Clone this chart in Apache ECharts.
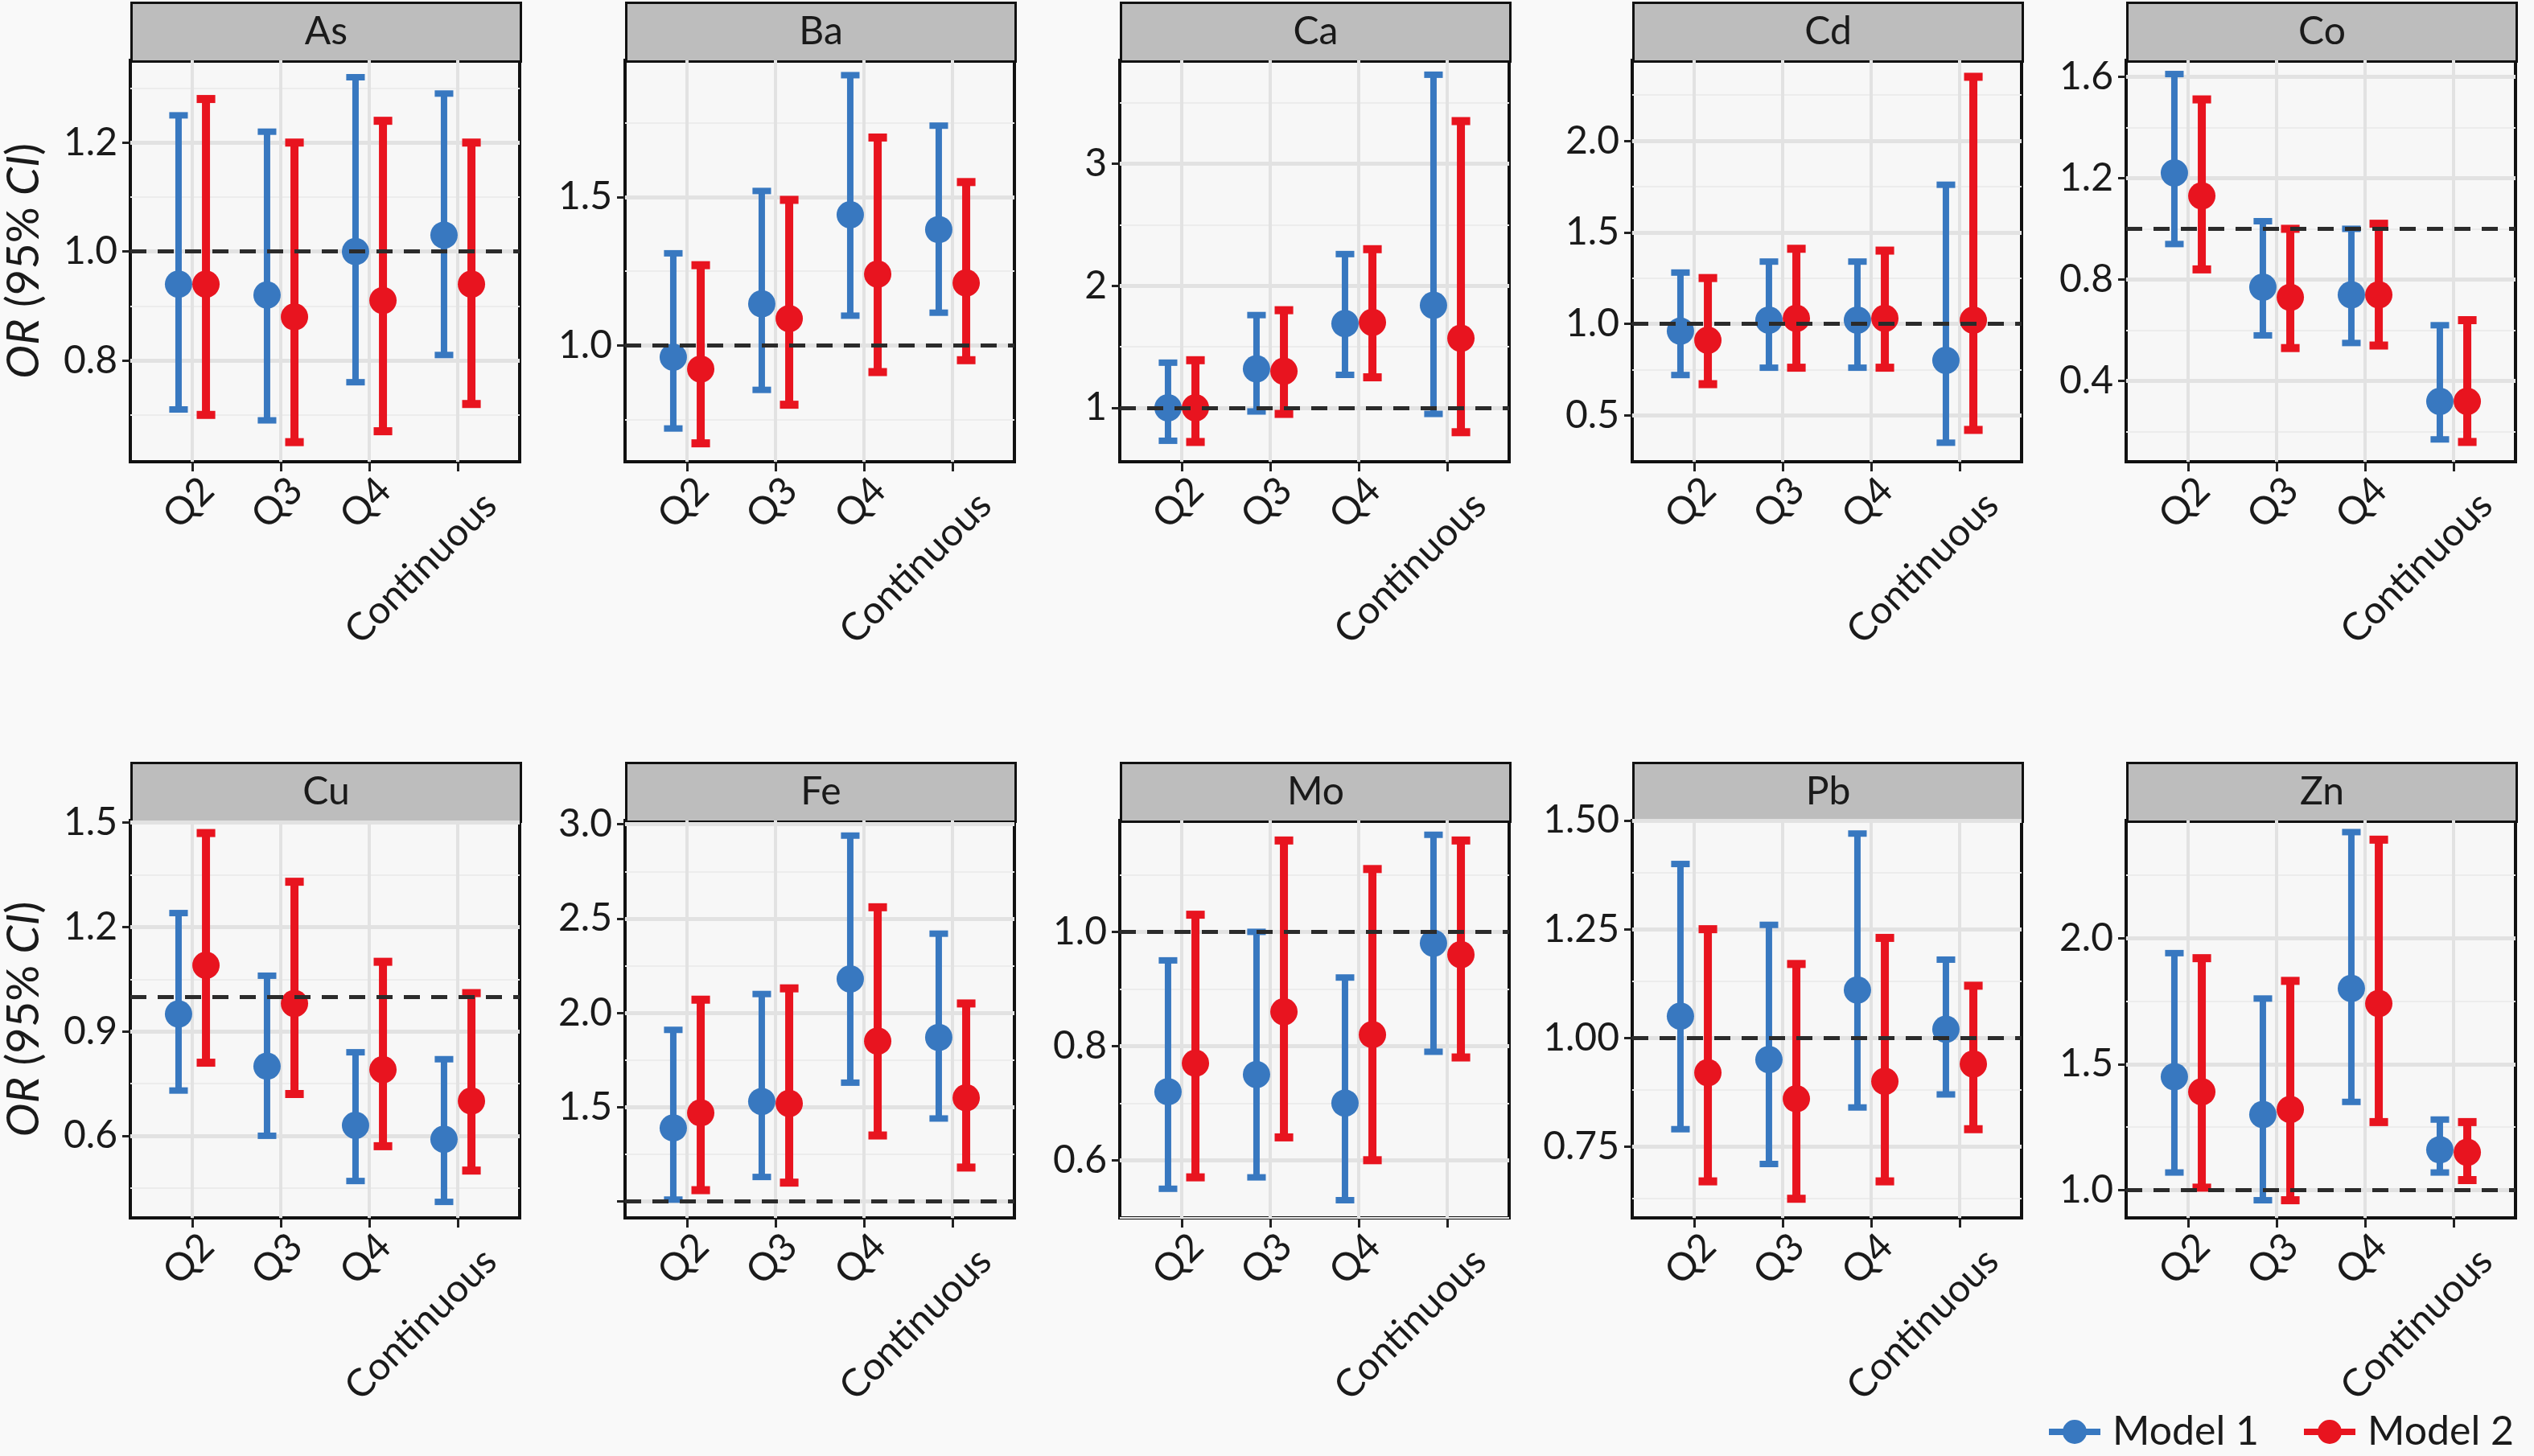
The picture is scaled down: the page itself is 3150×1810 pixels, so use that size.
<!DOCTYPE html>
<html>
<head>
<meta charset="utf-8">
<script src="https://cdn.jsdelivr.net/npm/echarts@6/dist/echarts.min.js"></script>
<style>
  html, body { margin: 0; padding: 0; background: #f9f9f9; }
  #chart { width: 3150px; height: 1810px; }
</style>
</head>
<body>
<div id="chart"></div>
<script>
// categories and panels
const categories = ['Q2', 'Q3', 'Q4', 'Continuous'];
const metals = ['As', 'Ba', 'Ca', 'Cd', 'Co', 'Cu', 'Fe', 'Mo', 'Pb', 'Zn'];

// Model 1: estimate, lower CI, upper CI (one row per metal, columns = categories)
const model1Est = [
  [0.94, 0.92, 1.00, 1.03], [0.96, 1.14, 1.44, 1.39], [1.00, 1.32, 1.69, 1.84],
  [0.96, 1.02, 1.02, 0.80], [1.22, 0.77, 0.74, 0.32], [0.95, 0.80, 0.63, 0.59],
  [1.39, 1.53, 2.18, 1.87], [0.72, 0.75, 0.70, 0.98], [1.05, 0.95, 1.11, 1.02],
  [1.45, 1.30, 1.80, 1.16]
];
const model1Low = [
  [0.71, 0.69, 0.76, 0.81], [0.72, 0.85, 1.10, 1.11], [0.73, 0.97, 1.27, 0.95],
  [0.72, 0.76, 0.76, 0.35], [0.94, 0.58, 0.55, 0.17], [0.73, 0.60, 0.47, 0.41],
  [1.01, 1.13, 1.63, 1.44], [0.55, 0.57, 0.53, 0.79], [0.79, 0.71, 0.84, 0.87],
  [1.07, 0.96, 1.35, 1.07]
];
const model1High = [
  [1.25, 1.22, 1.32, 1.29], [1.31, 1.52, 1.91, 1.74], [1.37, 1.76, 2.26, 3.73],
  [1.28, 1.34, 1.34, 1.76], [1.61, 1.03, 1.00, 0.62], [1.24, 1.06, 0.84, 0.82],
  [1.91, 2.10, 2.94, 2.42], [0.95, 1.00, 0.92, 1.17], [1.40, 1.26, 1.47, 1.18],
  [1.94, 1.76, 2.42, 1.28]
];

// Model 2
const model2Est = [
  [0.94, 0.88, 0.91, 0.94], [0.92, 1.09, 1.24, 1.21], [1.00, 1.30, 1.70, 1.57],
  [0.91, 1.03, 1.03, 1.02], [1.13, 0.73, 0.74, 0.32], [1.09, 0.98, 0.79, 0.70],
  [1.47, 1.52, 1.85, 1.55], [0.77, 0.86, 0.82, 0.96], [0.92, 0.86, 0.90, 0.94],
  [1.39, 1.32, 1.74, 1.15]
];
const model2Low = [
  [0.70, 0.65, 0.67, 0.72], [0.67, 0.80, 0.91, 0.95], [0.72, 0.95, 1.25, 0.80],
  [0.67, 0.76, 0.76, 0.42], [0.84, 0.53, 0.54, 0.16], [0.81, 0.72, 0.57, 0.50],
  [1.06, 1.10, 1.35, 1.18], [0.57, 0.64, 0.60, 0.78], [0.67, 0.63, 0.67, 0.79],
  [1.01, 0.96, 1.27, 1.04]
];
const model2High = [
  [1.28, 1.20, 1.24, 1.20], [1.27, 1.49, 1.70, 1.55], [1.39, 1.80, 2.30, 3.35],
  [1.25, 1.41, 1.40, 2.35], [1.51, 1.00, 1.02, 0.64], [1.47, 1.33, 1.10, 1.01],
  [2.07, 2.13, 2.56, 2.05], [1.03, 1.16, 1.11, 1.16], [1.25, 1.17, 1.23, 1.12],
  [1.92, 1.83, 2.39, 1.27]
];

// y scales per panel
const yRanges = [
  [0.614, 1.351], [0.608, 1.96], [0.558, 3.848], [0.246, 2.44], [0.082, 1.664],
  [0.364, 1.506], [0.913, 3.02], [0.499, 1.195], [0.586, 1.50], [0.89, 2.466]
];
const yTicks = [
  [0.8, 1.0, 1.2], [1.0, 1.5], [1, 2, 3], [0.5, 1.0, 1.5, 2.0], [0.4, 0.8, 1.2, 1.6],
  [0.6, 0.9, 1.2, 1.5], [1.0, 1.5, 2.0, 2.5, 3.0], [0.6, 0.8, 1.0], [0.75, 1.0, 1.25, 1.5],
  [1.0, 1.5, 2.0]
];
const yLabels = [
  [0.8, 1.0, 1.2], [1.0, 1.5], [1, 2, 3], [0.5, 1.0, 1.5, 2.0], [0.4, 0.8, 1.2, 1.6],
  [0.6, 0.9, 1.2, 1.5], [1.5, 2.0, 2.5, 3.0], [0.6, 0.8, 1.0], [0.75, 1.0, 1.25, 1.5],
  [1.0, 1.5, 2.0]
];
const yMinor = [
  [0.7, 0.9, 1.1, 1.3], [0.75, 1.25, 1.75], [1.5, 2.5, 3.5], [0.75, 1.25, 1.75, 2.25],
  [0.2, 0.6, 1.0, 1.4], [0.45, 0.75, 1.05, 1.35], [1.25, 1.75, 2.25, 2.75],
  [0.5, 0.7, 0.9, 1.1], [0.625, 0.875, 1.125, 1.375], [1.25, 1.75, 2.25]
];
const yDigits = [1, 1, 0, 1, 1, 1, 1, 1, 2, 1];

// layout
const FONT = 'Lato';
const TXT = '#1a1a1a';
const colLeft = [162, 777, 1392, 2029, 2643];
const panelW = 484;
const rowTop = [75, 1020];
const panelH = [499, 494];
const stripH = 73;
const BLUE = '#3878c0';
const RED = '#e8141f';

function errRender(offset, lw) {
  return function (params, api) {
    const x = api.value(0) + offset;
    const lo = api.coord([x, api.value(1)]);
    const hi = api.coord([x, api.value(2)]);
    const mid = api.coord([x, api.value(3)]);
    const cap = api.size([0.105, 0])[0];
    const color = api.visual('color');
    const st = { stroke: color, lineWidth: lw };
    return {
      type: 'group',
      children: [
        { type: 'line', shape: { x1: lo[0], y1: lo[1], x2: hi[0], y2: hi[1] }, style: st },
        { type: 'line', shape: { x1: lo[0] - cap, y1: lo[1], x2: lo[0] + cap, y2: lo[1] }, style: st },
        { type: 'line', shape: { x1: hi[0] - cap, y1: hi[1], x2: hi[0] + cap, y2: hi[1] }, style: st },
        { type: 'circle', shape: { cx: mid[0], cy: mid[1], r: 17 }, style: { fill: color } }
      ]
    };
  };
}

// x labels: long labels sit lower, as in the source figure
const xRich = {
  q: { fontSize: 48, fontFamily: FONT, color: TXT, padding: [5, 2, 0, 0] },
  c: { fontSize: 48, fontFamily: FONT, color: TXT, padding: [33, 0, 0, 0] }
};

const grids = [], xAxes = [], yAxes = [], series = [], graphics = [];

metals.forEach((m, i) => {
  const r = Math.floor(i / 5), c = i % 5;
  grids.push({
    left: colLeft[c], top: rowTop[r], width: panelW, height: panelH[r],
    show: true, backgroundColor: '#f7f7f7', borderColor: '#111', borderWidth: 4
  });
  xAxes.push({
    type: 'value', gridIndex: i, min: 0.3, max: 4.7,
    axisLine: { show: false, onZero: false },
    axisTick: { show: true, customValues: [1, 2, 3, 4], length: 12, lineStyle: { color: '#222', width: 3 } },
    axisLabel: {
      customValues: [1, 2, 3, 4], rotate: 45, margin: 6,
      align: 'right', verticalAlign: 'top',
      formatter: v => {
        const name = categories[Math.round(v) - 1];
        return name.length > 2 ? '{c|' + name + '}' : '{q|' + name + '}';
      },
      rich: xRich,
      fontSize: 48, fontFamily: FONT, color: TXT
    },
    splitLine: { show: false }
  });
  const yAx = {
    type: 'value', gridIndex: i, min: yRanges[i][0], max: yRanges[i][1],
    axisLine: { show: false },
    axisTick: { show: true, customValues: yTicks[i], length: 10, lineStyle: { color: '#222', width: 3 } },
    axisLabel: {
      customValues: yLabels[i], margin: 16,
      formatter: v => Number(v).toFixed(yDigits[i]),
      fontSize: 48, fontFamily: FONT, color: TXT
    },
    splitLine: { show: false }
  };
  if (c === 0) {
    yAx.name = '{i|OR}{n| (95% }{i|CI}{n|)}';
    yAx.nameLocation = 'middle';
    yAx.nameRotate = 90;
    yAx.nameGap = 104;
    yAx.nameTextStyle = {
      fontSize: 56, fontFamily: FONT, color: TXT,
      rich: {
        i: { fontStyle: 'italic', fontSize: 56, fontFamily: FONT, color: TXT },
        n: { fontSize: 56, fontFamily: FONT, color: TXT }
      }
    };
  }
  yAxes.push(yAx);

  // grid lines (kept beneath the error bars)
  const minorLines = yMinor[i].map(v => ({ yAxis: v, lineStyle: { color: '#ececec', width: 2, type: 'solid' } }));
  const majorLines = yTicks[i].map(v => ({ yAxis: v, lineStyle: { color: '#e2e2e2', width: 5, type: 'solid' } }));
  const vLines = [1, 2, 3, 4].map(v => ({ xAxis: v, lineStyle: { color: '#e2e2e2', width: 4, type: 'solid' } }));
  series.push({
    type: 'line', xAxisIndex: i, yAxisIndex: i, data: [], z: 1, silent: true,
    markLine: {
      z: 1, silent: true, symbol: 'none', animation: false, label: { show: false },
      data: minorLines.concat(majorLines, vLines)
    }
  });

  const d1 = categories.map((cat, k) => [k + 1, model1Low[i][k], model1High[i][k], model1Est[i][k]]);
  const d2 = categories.map((cat, k) => [k + 1, model2Low[i][k], model2High[i][k], model2Est[i][k]]);
  series.push({
    name: 'Model 1', type: 'custom', xAxisIndex: i, yAxisIndex: i, z: 3,
    itemStyle: { color: BLUE }, renderItem: errRender(-0.155, 8),
    encode: { x: 0, y: [1, 2, 3] }, data: d1, animation: false
  });
  series.push({
    name: 'Model 2', type: 'custom', xAxisIndex: i, yAxisIndex: i, z: 3,
    itemStyle: { color: RED }, renderItem: errRender(0.155, 10),
    encode: { x: 0, y: [1, 2, 3] }, data: d2, animation: false
  });

  // reference line at OR = 1
  series.push({
    type: 'line', xAxisIndex: i, yAxisIndex: i, data: [], z: 6, silent: true,
    markLine: {
      z: 6, silent: true, symbol: 'none', animation: false, label: { show: false },
      data: [{ yAxis: 1, lineStyle: { color: '#2b2b2b', width: 5, type: [20, 14] } }]
    }
  });

  // facet strip
  graphics.push({
    type: 'group', left: colLeft[c], top: rowTop[r] - stripH,
    children: [
      { type: 'rect', shape: { x: 0, y: 0, width: panelW, height: stripH },
        style: { fill: '#bdbdbd', stroke: '#111', lineWidth: 3 } },
      { type: 'text', x: panelW / 2, y: stripH / 2,
        style: { text: m, fontSize: 48, fontFamily: FONT, fill: TXT, align: 'center', verticalAlign: 'middle' } }
    ]
  });
});

const chart = echarts.init(document.getElementById('chart'), null, { renderer: 'canvas' });
chart.setOption({
  backgroundColor: '#f9f9f9',
  animation: false,
  grid: grids,
  xAxis: xAxes,
  yAxis: yAxes,
  series: series,
  graphic: graphics,
  legend: {
    data: ['Model 1', 'Model 2'],
    right: 20, top: 1750,
    itemWidth: 64, itemHeight: 36, itemGap: 56,
    icon: 'path://M0,14 L19,14 L19,22 L0,22 Z M45,14 L64,14 L64,22 L45,22 Z M17,18 A15,15 0 1 1 47,18 A15,15 0 1 1 17,18 Z',
    textStyle: { fontSize: 50, fontFamily: FONT, color: TXT, padding: [0, 0, 0, 10] }
  }
});
</script>
</body>
</html>
